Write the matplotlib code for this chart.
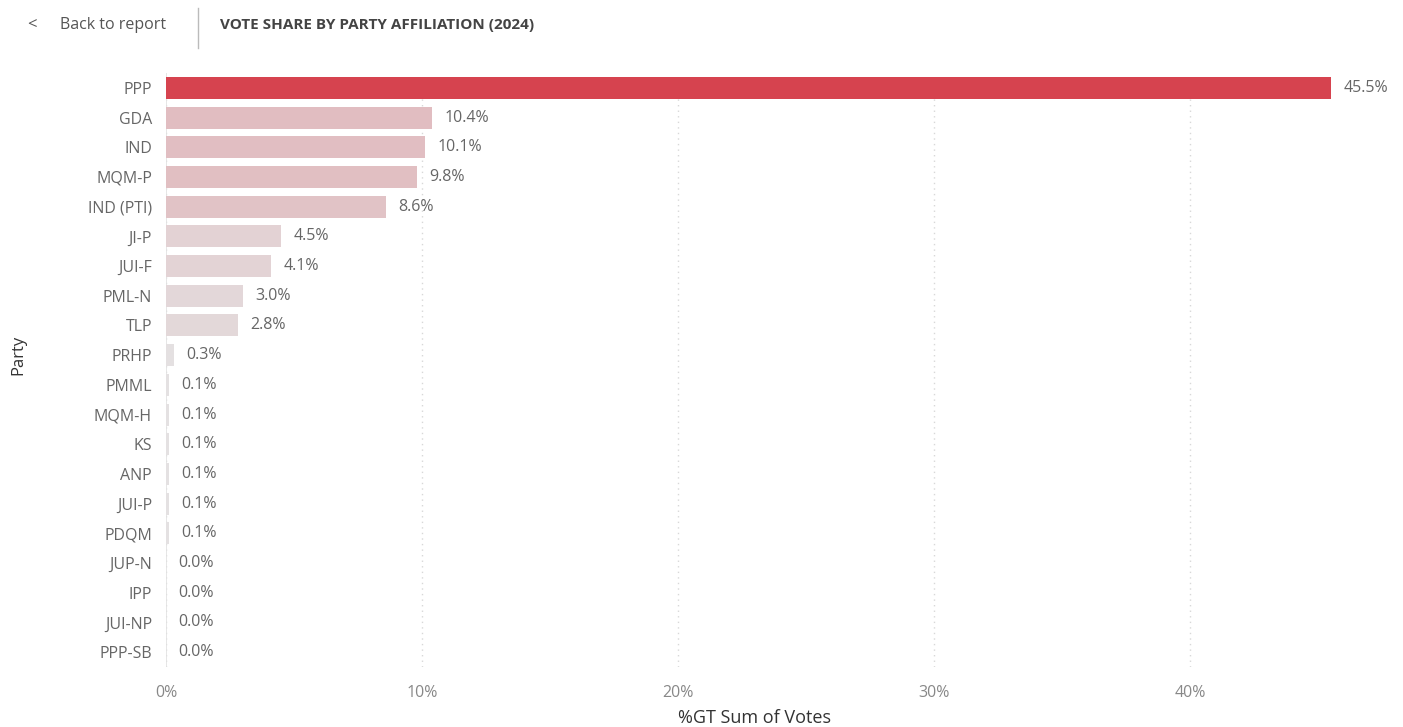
import matplotlib
matplotlib.use("Agg")
import matplotlib.pyplot as plt
from matplotlib.colors import LinearSegmentedColormap, Normalize
from matplotlib.lines import Line2D

parties = ["PPP", "GDA", "IND", "MQM-P", "IND (PTI)", "JI-P", "JUI-F", "PML-N", "TLP",
           "PRHP", "PMML", "MQM-H", "KS", "ANP", "JUI-P", "PDQM", "JUP-N", "IPP",
           "JUI-NP", "PPP-SB"]
shares = [45.5, 10.4, 10.1, 9.8, 8.6, 4.5, 4.1, 3.0, 2.8,
          0.3, 0.1, 0.1, 0.1, 0.1, 0.1, 0.1, 0.0, 0.0, 0.0, 0.0]
xticks = [0, 10, 20, 30, 40]
xtick_labels = ["0%", "10%", "20%", "30%", "40%"]

plt.rcParams['font.family'] = ['Open Sans', 'DejaVu Sans']

W, H = 1403, 727
fig = plt.figure(figsize=(W / 100, H / 100), dpi=100)
ax = fig.add_axes([166 / W, 1 - 667 / H, (1344 - 166) / W, (667 - 73) / H])

cmap = LinearSegmentedColormap.from_list("pbi", ["#E4E1E2", "#D6434F"])
norm = Normalize(vmin=0, vmax=max(shares))
colors = [cmap(norm(v)) for v in shares]

y = list(range(len(parties)))
ax.barh(y, shares, height=0.74, color=colors, zorder=2)
for yi, v in zip(y, shares):
    ax.annotate(f"{v:.1f}%", (v, yi), xytext=(9, 0), textcoords="offset points",
                ha="left", va="center", fontsize=11.5, color="#666666")

ax.set_ylim(len(parties) - 0.5, -0.5)
ax.set_xlim(0, 46)
ax.set_yticks(y)
ax.set_yticklabels(parties, fontsize=11.5, color="#666666")
ax.set_xticks(xticks)
ax.set_xticklabels(xtick_labels, fontsize=11.5, color="#888888")
ax.tick_params(axis="both", length=0)
ax.tick_params(axis="y", pad=10)
ax.tick_params(axis="x", pad=13)
for s in ax.spines.values():
    s.set_visible(False)
for xv in xticks:
    ax.axvline(xv, color="#D8D8D8", linestyle=(0, (1, 3)), linewidth=1, zorder=1)
ax.axvline(0, color="#E2E2E2", linewidth=1.2, zorder=1.5)

ax.set_xlabel("%GT Sum of Votes", fontsize=13, color="#333333", labelpad=6)
fig.text(18 / W, 1 - 355 / H, "Party", rotation=90, ha="center", va="center",
         fontsize=12, color="#333333")

fig.text(27 / W, 1 - 25 / H, "<", ha="left", va="center", fontsize=12, color="#555555")
fig.text(60 / W, 1 - 25 / H, "Back to report", ha="left", va="center", fontsize=11.5,
         color="#555555")
fig.add_artist(Line2D([198 / W, 198 / W], [1 - 8 / H, 1 - 48 / H],
                      transform=fig.transFigure, color="#BBBBBB", linewidth=1))
fig.text(220 / W, 1 - 25 / H, "VOTE SHARE BY PARTY AFFILIATION (2024)", ha="left",
         va="center", fontsize=11, fontweight="bold", color="#444444")

fig.savefig("out.png", dpi=100, facecolor="white")
